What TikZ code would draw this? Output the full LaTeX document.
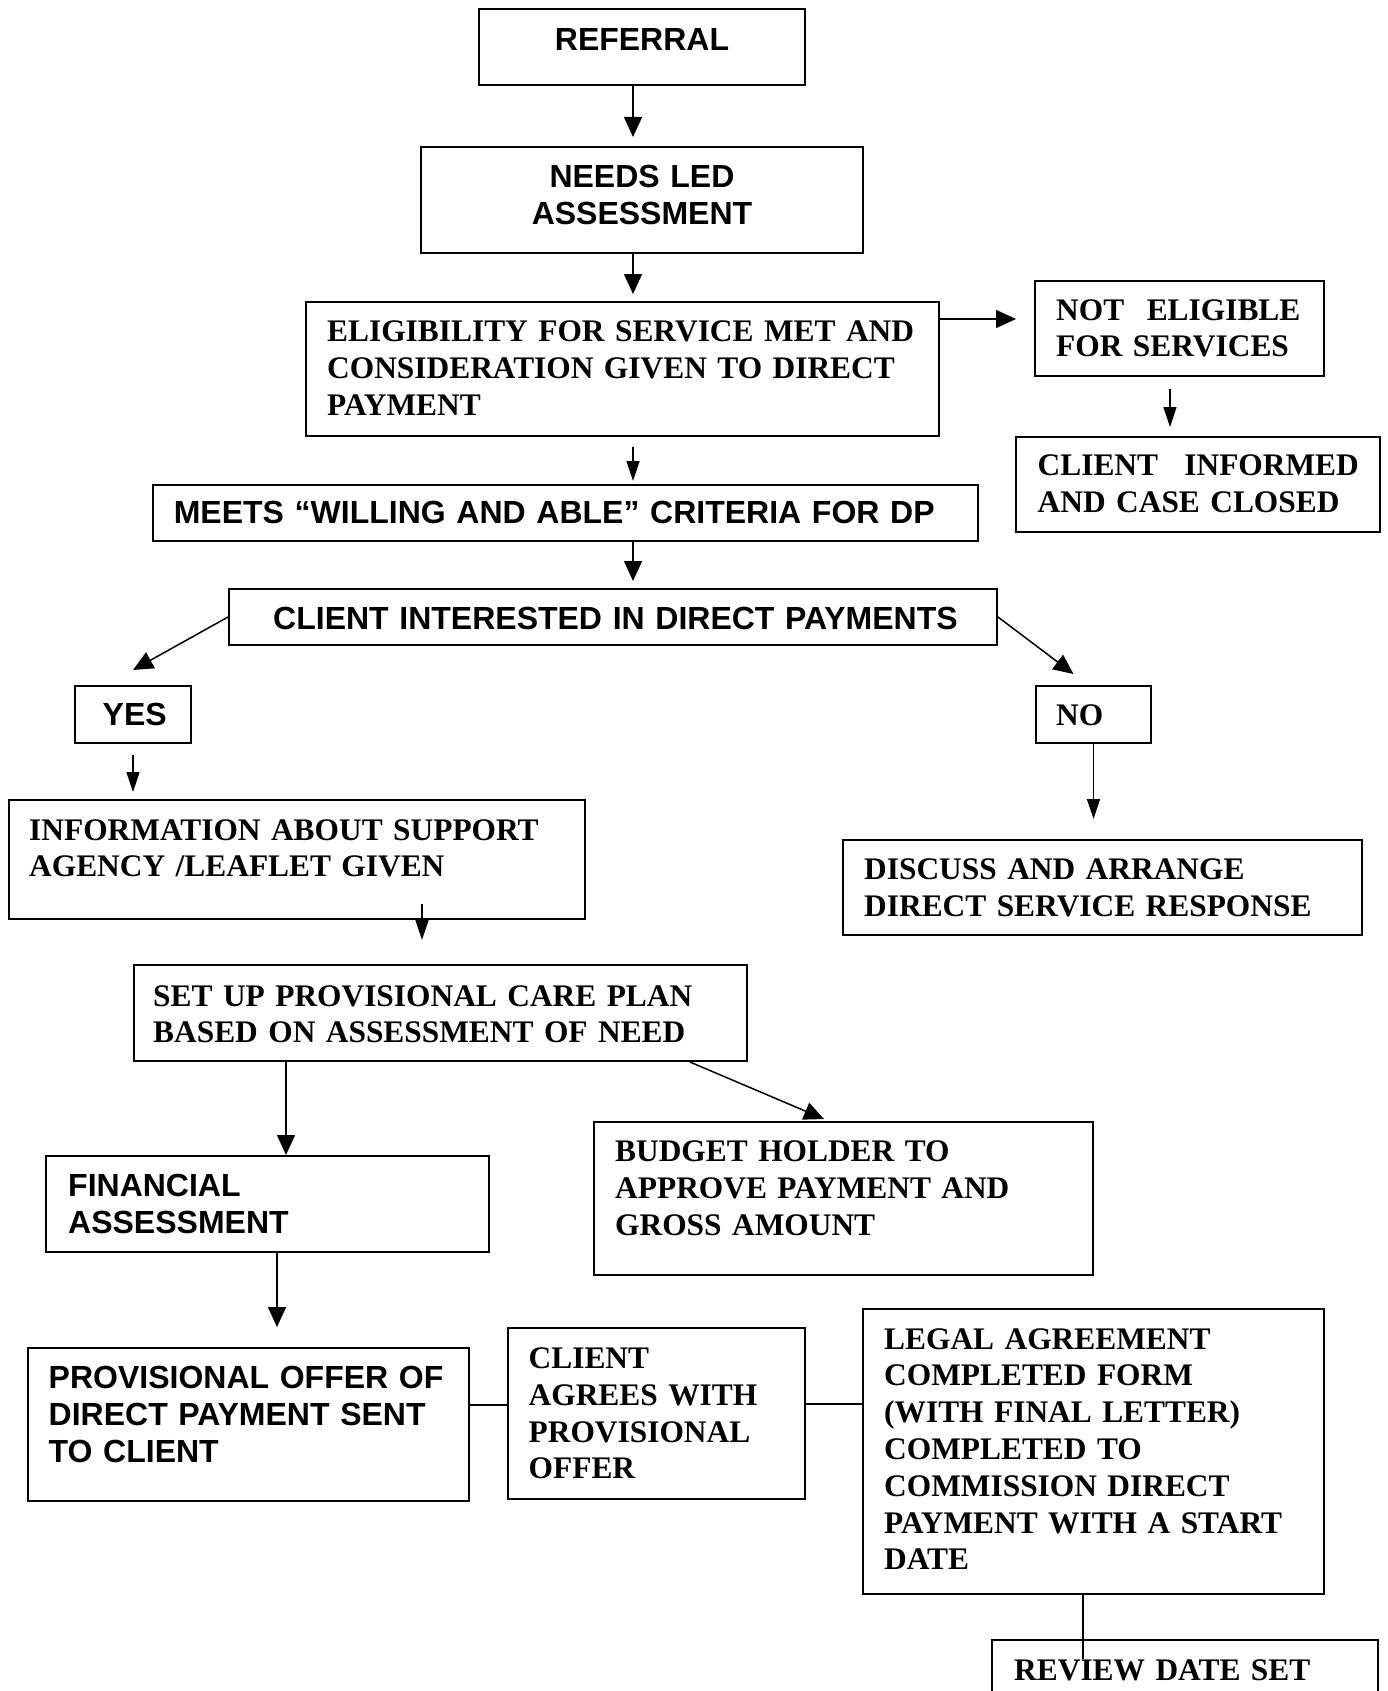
\documentclass[tikz,border=0pt]{standalone}
\usepackage{fontspec}
\setmainfont{Liberation Serif}
\newfontfamily\sansfam{Liberation Sans}
\usetikzlibrary{arrows.meta,fit}
\begin{document}
\begin{tikzpicture}[x=1pt,y=-1pt,
  box/.style={draw,line width=2pt,inner sep=0pt,rectangle},
  sertxt/.style={font=\fontsize{31.4}{36.8}\selectfont\bfseries,inner sep=0pt,anchor=base west,text width=#1,align=left},
  sertxt/.default=700pt,
  sanstxt/.style={font=\sansfam\fontsize{32}{36.8}\selectfont\bfseries,inner sep=0pt,anchor=base west,text width=#1,align=left},
  sanstxt/.default=800pt,
  arrbig/.style={-{Triangle[length=20pt,width=18pt]},line width=1.5pt},
  arrsm/.style={-{Triangle[length=20pt,width=13pt]},line width=1.5pt},
  link/.style={line width=1.5pt}
]
\useasboundingbox (0,0) rectangle (1388,1691);
\fill[white] (0,0) rectangle (1388,1691);

% boxes
\node[box,fit={(479,9) (805,85)}] (ref) {};
\node[box,fit={(421,147) (863,253)}] (needs) {};
\node[box,fit={(306,302) (939,436)}] (elig) {};
\node[box,fit={(1035,281) (1324,376)}] (note) {};
\node[box,fit={(1016,437) (1380,532)}] (inf) {};
\node[box,fit={(153,485) (978,541)}] (meets) {};
\node[box,fit={(229,589) (997,645)}] (cint) {};
\node[box,fit={(75,686) (191,743)}] (yes) {};
\node[box,fit={(1036,686) (1151,743)}] (no) {};
\node[box,fit={(9,800) (585,919)}] (info) {};
\node[box,fit={(843,840) (1362,935)}] (disc) {};
\node[box,fit={(134,965) (747,1061)}] (setup) {};
\node[box,fit={(46,1156) (489,1252)}] (fin) {};
\node[box,fit={(594,1122) (1093,1275)}] (budget) {};
\node[box,fit={(28,1348) (469,1501)}] (prov) {};
\node[box,fit={(508,1328) (805,1499)}] (agrees) {};
\node[box,fit={(863,1309) (1324,1594)}] (legal) {};
\node[box,fit={(992,1640) (1378,1730)}] (review) {};

% texts
\node[sanstxt=420pt,anchor=base,align=center] (ref-t) at (642,50.3) {REFERRAL};
\node[sanstxt=420pt,anchor=base,align=center] (needs-t) at (642,187.3) {NEEDS LED\\ASSESSMENT};
\node[sertxt] (elig-t) at (327,341.6) {ELIGIBILITY FOR SERVICE MET AND\\CONSIDERATION GIVEN TO DIRECT\\PAYMENT};
\node[sertxt=270pt] (note-t) at (1056,320) {\makebox[90.6pt][l]{NOT}ELIGIBLE\\FOR SERVICES};
\node[sertxt=340pt] (inf-t) at (1037.5,475.4) {\makebox[146.7pt][l]{CLIENT}INFORMED\\AND CASE CLOSED};
\node[sanstxt] (meets-t) at (173.6,523.8) {MEETS “WILLING AND ABLE” CRITERIA FOR DP};
\node[sanstxt] (cint-t) at (273,629.5) {CLIENT INTERESTED IN DIRECT PAYMENTS};
\node[sanstxt=100pt] (yes-t) at (102.5,725.5) {YES};
\node[sertxt=100pt] (no-t) at (1056,725.6) {NO};
\node[sertxt] (info-t) at (29,840) {INFORMATION ABOUT SUPPORT\\AGENCY /LEAFLET GIVEN};
\node[sertxt] (disc-t) at (864,879.7) {DISCUSS AND ARRANGE\\DIRECT SERVICE RESPONSE};
\node[sertxt] (setup-t) at (153,1006) {SET UP PROVISIONAL CARE PLAN\\BASED ON ASSESSMENT OF NEED};
\node[sanstxt] (fin-t) at (68,1196.5) {FINANCIAL\\ASSESSMENT};
\node[sertxt] (budget-t) at (615,1161.4) {BUDGET HOLDER TO\\APPROVE PAYMENT AND\\GROSS AMOUNT};
\node[sanstxt] (prov-t) at (48.5,1388.7) {PROVISIONAL OFFER OF\\DIRECT PAYMENT SENT\\TO CLIENT};
\node[sertxt] (agrees-t) at (528.5,1368.4) {CLIENT\\AGREES WITH\\PROVISIONAL\\OFFER};
\node[sertxt] (legal-t) at (884,1349) {LEGAL AGREEMENT\\COMPLETED FORM\\(WITH FINAL LETTER)\\COMPLETED TO\\COMMISSION DIRECT\\PAYMENT WITH A START\\DATE};
\node[sertxt] (review-t) at (1014,1680) {REVIEW DATE SET};

% connectors
\draw[arrbig] ([xshift=-9pt]ref.south) -- ([xshift=-9pt,yshift=9pt]needs.north);
\draw[arrbig] ([xshift=-9pt]needs.south) -- ([xshift=-9pt,yshift=7pt]needs.south |- elig.north);
\draw[arrbig] ([yshift=-18pt]elig.north east) -- ([xshift=-18pt,yshift=-18pt]elig.north east -| note.west);
\draw[arrsm] ([xshift=-9.5pt,yshift=-12pt]note.south) -- ([xshift=-9.5pt,yshift=9pt]note.south |- inf.north);
\draw[arrsm] ([xshift=10.5pt,yshift=-10pt]elig.south) -- ([xshift=10.5pt,yshift=3pt]elig.south |- meets.north);
\draw[arrbig] ([xshift=67.5pt]meets.south) -- ([xshift=67.5pt,yshift=7pt]meets.south |- cint.north);
\draw[arrbig] (cint.west) -- ([yshift=15pt]yes.north);
\draw[arrbig] (cint.east) -- ([xshift=-20pt,yshift=11pt]no.north);
\draw[arrsm] ([yshift=-11pt]yes.south) -- ([yshift=7pt]yes.south |- info.north);
\draw[arrsm] (no.south) -- ([yshift=20pt]no.south |- disc.north);
\draw[arrsm] ([xshift=125pt,yshift=16pt]info.south) -- ([xshift=125pt,yshift=24pt]info.south |- setup.north);
\draw[arrbig] ([xshift=-154.5pt]setup.south) -- ([xshift=-154.5pt]setup.south |- fin.north);
\draw[arrbig] ([xshift=249.5pt]setup.south) -- ([xshift=-19.5pt,yshift=2pt]budget.north);
\draw[arrbig] ([xshift=9.5pt]fin.south) -- ([xshift=9.5pt,yshift=20pt]fin.south |- prov.north);
\draw[link] ([yshift=19.5pt]prov.east) -- ([yshift=19.5pt]prov.east -| agrees.west);
\draw[link] ([yshift=9.5pt]agrees.east) -- ([yshift=9.5pt]agrees.east -| legal.west);
\draw[link] ([xshift=-10.5pt]legal.south) -- ([xshift=-10.5pt,yshift=-20pt]legal.south |- review.north);
\end{tikzpicture}
\end{document}
